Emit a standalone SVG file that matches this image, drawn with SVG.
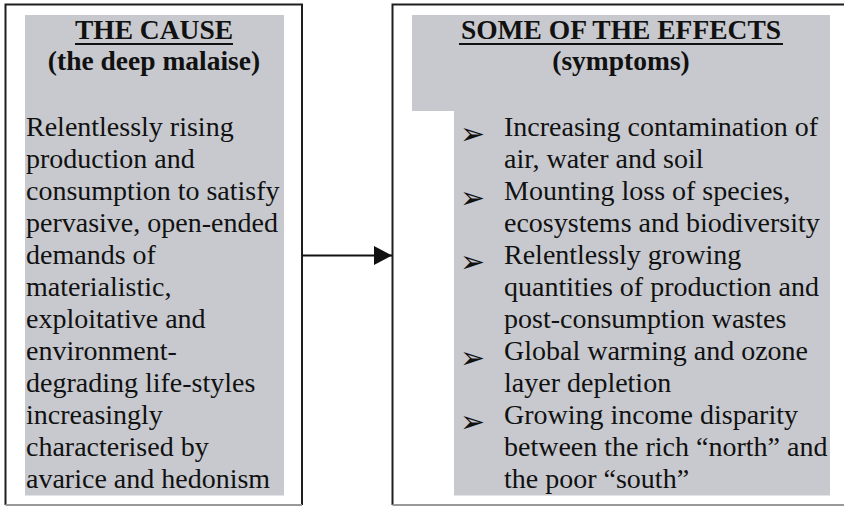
<svg xmlns="http://www.w3.org/2000/svg" width="844" height="506" viewBox="0 0 844 506">
<defs>
<style>
.frame{fill:none;stroke:#1e1e1e;stroke-width:2}
.shade{fill:#c7c9ce}
.h{font-family:"Liberation Serif","Times New Roman",serif;font-weight:bold;font-size:27.5px;fill:#111;text-anchor:middle}
.t{font-family:"Liberation Serif","Times New Roman",serif;font-size:28px;fill:#111}
.b{font-family:"DejaVu Sans",sans-serif;font-size:30px;fill:#111}
.ul{stroke:#111;stroke-width:2}
</style>
<marker id="ah" markerWidth="18" markerHeight="19" refX="18" refY="9.5" orient="auto" markerUnits="userSpaceOnUse">
<path d="M0,0 L18,9.5 L0,19 Z" fill="#111"/>
</marker>
</defs>
<rect width="844" height="506" fill="#fff"/>
<g id="cause">
<path class="frame" d="M5.5,505 V4.5 H302 V505"/>
<line x1="5.5" y1="505" x2="302" y2="505" stroke="#999" stroke-width="2"/>
<rect class="shade" x="25" y="15" width="259" height="480.5"/>
<text class="h" x="154" y="39">THE CAUSE</text>
<line class="ul" x1="75" y1="44" x2="233" y2="44"/>
<text class="h" x="154" y="70">(the deep malaise)</text>
<text class="t" x="26" y="136">Relentlessly rising</text>
<text class="t" x="26" y="168">production and</text>
<text class="t" x="26" y="200">consumption to satisfy</text>
<text class="t" x="26" y="232">pervasive, open-ended</text>
<text class="t" x="26" y="264">demands of</text>
<text class="t" x="26" y="296">materialistic,</text>
<text class="t" x="26" y="328">exploitative and</text>
<text class="t" x="26" y="360">environment-</text>
<text class="t" x="26" y="392">degrading life-styles</text>
<text class="t" x="26" y="424">increasingly</text>
<text class="t" x="26" y="456">characterised by</text>
<text class="t" x="26" y="488">avarice and hedonism</text>
</g>
<g id="effects">
<path class="frame" d="M392.5,505 V4.5 H844"/>
<line x1="392.5" y1="505" x2="844" y2="505" stroke="#999" stroke-width="2"/>
<path class="shade" d="M412,15 H830 V495.5 H454 V111 H412 Z"/>
<text class="h" x="621" y="39">SOME OF THE EFFECTS</text>
<line class="ul" x1="459" y1="44" x2="783" y2="44"/>
<text class="h" x="621" y="70">(symptoms)</text>
<text class="b" x="460" y="144">➢</text>
<text class="b" x="460" y="208">➢</text>
<text class="b" x="460" y="272">➢</text>
<text class="b" x="460" y="368">➢</text>
<text class="b" x="460" y="432">➢</text>
<text class="t" x="504" y="136">Increasing contamination of</text>
<text class="t" x="504" y="168">air, water and soil</text>
<text class="t" x="504" y="200">Mounting loss of species,</text>
<text class="t" x="504" y="232">ecosystems and biodiversity</text>
<text class="t" x="504" y="264">Relentlessly growing</text>
<text class="t" x="504" y="296">quantities of production and</text>
<text class="t" x="504" y="328">post-consumption wastes</text>
<text class="t" x="504" y="360">Global warming and ozone</text>
<text class="t" x="504" y="392">layer depletion</text>
<text class="t" x="504" y="424">Growing income disparity</text>
<text class="t" x="504" y="456">between the rich “north” and</text>
<text class="t" x="504" y="488">the poor “south”</text>
</g>
<g id="connectors">
<line x1="302" y1="255.5" x2="392" y2="255.5" stroke="#111" stroke-width="2" marker-end="url(#ah)"/>
</g>
</svg>
